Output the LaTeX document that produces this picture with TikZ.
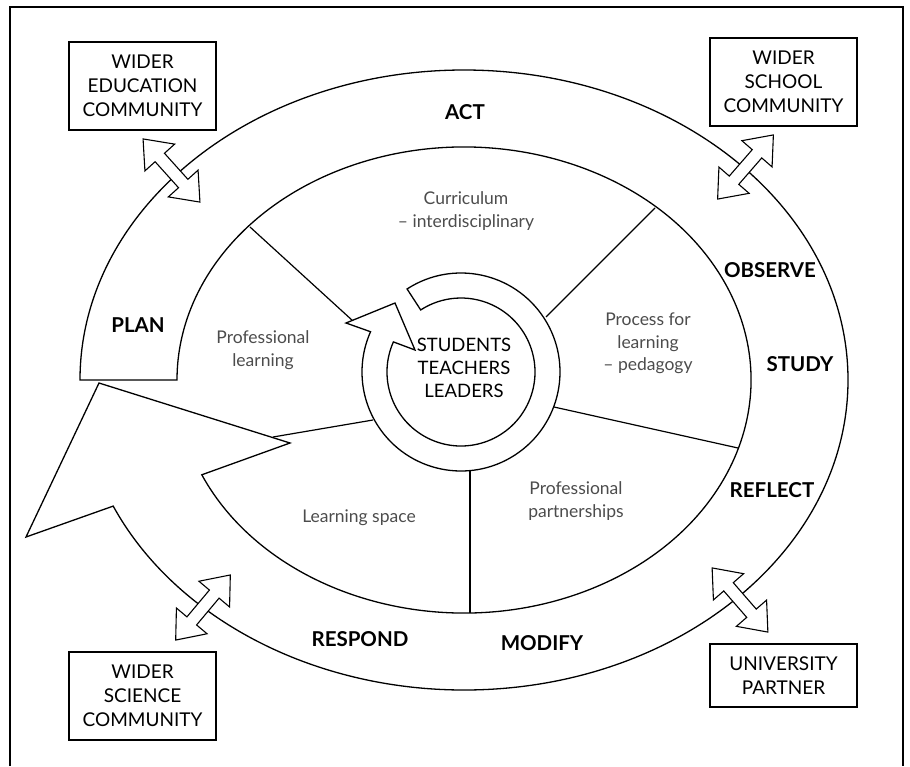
\documentclass[tikz,border=0pt]{standalone}
\usepackage{fontspec}
\setmainfont{Lato}
\usetikzlibrary{calc}
\tikzset{
  box/.style    = {draw, line width=1.1pt, align=center, inner sep=0pt,
                   minimum width=147pt, font=\fontsize{19}{24}\selectfont},
  band/.style   = {draw, fill=white, line width=1.3pt, line join=miter},
  spoke/.style  = {line width=1.2pt},
  stage/.style  = {font=\fontsize{20.5}{22}\selectfont\bfseries},
  area/.style   = {align=center, text=black!70, font=\fontsize{17.5}{22.5}\selectfont},
  core/.style   = {align=center, font=\fontsize{18.5}{23}\selectfont},
  twoway/.pic   = {\draw[band, line width=1.1pt] (42.5,0) -- (17.5,20) -- (17.5,6.3)
                   -- (-17.5,6.3) -- (-17.5,20) -- (-42.5,0) -- (-17.5,-20)
                   -- (-17.5,-6.3) -- (17.5,-6.3) -- (17.5,-20) -- cycle;}
}
\begin{document}
\begin{tikzpicture}[x=1pt, y=-1pt]
  \useasboundingbox (0,0) rectangle (910,766);
  % frame, open at the foot
  \draw[line width=1.5pt] (10,766) -- (10,7) -- (903,7) -- (903,766);

  \coordinate (oval) at (464,380);
  \coordinate (hub)  at (461,372);

  % spokes between the areas
  \draw[spoke] (250,227) -- (353,321);
  \draw[spoke] (655,208) -- (546,317);
  \draw[spoke] (738,448) -- (554,407);
  \draw[spoke] (470,613) -- (470,470);
  \draw[spoke] (373,420) -- (273,437);

  % the cycle arrow
  \draw[band] ($(oval)+(180:384 and 310)$)
      arc[start angle=180, end angle=516, x radius=384, y radius=310]
      -- (26,537) -- (99,383) -- (290,443)
      -- ($(oval)+(516:287 and 233)$)
      arc[start angle=516, end angle=180, x radius=287, y radius=233] -- cycle;

  % the arrow round the centre
  \draw[band] ($(hub)+(237:99)$) arc[start angle=237, end angle=564, radius=99]
      -- (346,323) -- (395,303) -- (415,350)
      -- ($(hub)+(564:74)$) arc[start angle=564, end angle=237, radius=74] -- cycle;

  % links to the partners
  \pic[rotate=-48] at (171.5,170.5) {twoway};
  \pic[rotate=49]  at (745.5,167)   {twoway};
  \pic[rotate=50]  at (203,607.5)   {twoway};
  \pic[rotate=-49] at (740,600)     {twoway};

  \node[box, minimum height=88pt] (edu)  at (142.5,86)  {WIDER\\EDUCATION\\COMMUNITY};
  \node[box, minimum height=88pt] (sch)  at (783.5,82)  {WIDER\\SCHOOL\\COMMUNITY};
  \node[box, minimum height=88pt] (sci)  at (142.5,696) {WIDER\\SCIENCE\\COMMUNITY};
  \node[box, minimum height=63pt] (uni)  at (783.5,675.5) {UNIVERSITY\\PARTNER};

  \node[stage] (act)     at (465,112) {ACT};
  \node[stage] (observe) at (770,270) {OBSERVE};
  \node[stage] (study)   at (800,364) {STUDY};
  \node[stage] (reflect) at (772,490) {REFLECT};
  \node[stage] (modify)  at (542,643) {MODIFY};
  \node[stage] (respond) at (360,639) {RESPOND};
  \node[stage] (plan)    at (138,325) {PLAN};

  \node[area] (curr)  at (466,211)   {Curriculum\\– interdisciplinary};
  \node[area] (proc)  at (648,343.5) {Process for\\learning\\– pedagogy};
  \node[area] (partn) at (576,501)   {Professional\\partnerships};
  \node[area] (space) at (359,518)   {Learning space};
  \node[area] (prof)  at (263,350)   {Professional\\learning};

  \node[core] (people) at (464,367.5) {STUDENTS\\TEACHERS\\LEADERS};
\end{tikzpicture}
\end{document}
